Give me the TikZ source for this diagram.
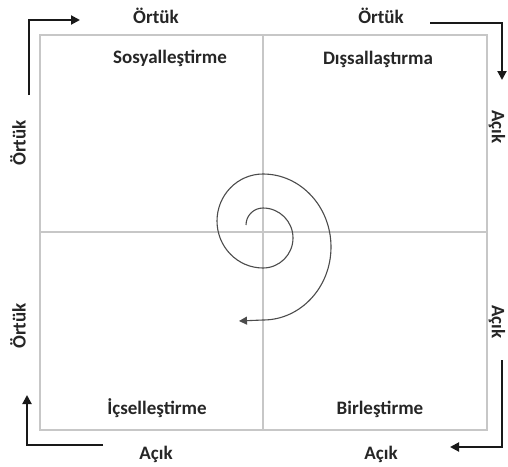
\documentclass[tikz,border=0pt]{standalone}
\usepackage{fontspec}
\setmainfont{Carlito}
\usetikzlibrary{arrows.meta}
\begin{document}
\begin{tikzpicture}[x=1pt,y=1pt,
  frame/.style={draw=black!22, line width=1.3pt},
  lbl/.style={font=\bfseries\fontsize{19}{22}\selectfont, text=black!85, inner sep=0pt},
  flow/.style={draw=black!90, line width=2pt, -{Triangle[length=9pt,width=9pt]}},
  spiralline/.style={draw=black!70, line width=1.1pt, -{Triangle[length=8pt,width=8pt]}}]
\useasboundingbox (0,0) rectangle (508,-466);
\fill[white] (0,0) rectangle (508,-466);

% quadrant frame
\coordinate (nw) at (40,-35);
\coordinate (se) at (487,-430);
\coordinate (midT) at (263,-35);
\coordinate (midB) at (263,-430);
\coordinate (midL) at (40,-232);
\coordinate (midR) at (487,-232);
\draw[frame] (nw) rectangle (se);
\draw[frame] (midT) -- (midB);
\draw[frame] (midL) -- (midR);

% quadrant titles
\node[lbl, anchor=base] (sos) at (170,-63) {Sosyalleştirme};
\node[lbl, anchor=base] (dis) at (378,-64) {Dışsallaştırma};
\node[lbl, anchor=base] (ics) at (157,-414) {İçselleştirme};
\node[lbl, anchor=base] (bir) at (380,-414) {Birleştirme};

% axis labels
\node[lbl, anchor=base] (ortTL) at (156,-23) {Örtük};
\node[lbl, anchor=base] (ortTR) at (381,-23) {Örtük};
\node[lbl, anchor=base] (acBL) at (156,-459) {Açık};
\node[lbl, anchor=base] (acBR) at (381,-459) {Açık};
\node[lbl, rotate=90] (ortL1) at (18,-143) {Örtük};
\node[lbl, rotate=90] (ortL2) at (18,-326) {Örtük};
\node[lbl, rotate=-90] (acR1) at (497,-127) {Açık};
\node[lbl, rotate=-90] (acR2) at (497,-322) {Açık};

% corner arrows
\coordinate (tlS) at (29,-95);
\coordinate (tlC) at (29,-20);
\coordinate (tlE) at (80,-20);
\draw[flow] (tlS) -- (tlC) -- (tlE);

\coordinate (trS) at (430,-23);
\coordinate (trC) at (502,-23);
\coordinate (trE) at (502,-80);
\draw[flow] (trS) -- (trC) -- (trE);

\coordinate (brS) at (502,-360);
\coordinate (brC) at (502,-447);
\coordinate (brE) at (450,-447);
\draw[flow] (brS) -- (brC) -- (brE);

\coordinate (blS) at (103,-445);
\coordinate (blC) at (27,-445);
\coordinate (blE) at (27,-395);
\draw[flow] (blS) -- (blC) -- (blE);

% knowledge spiral
\coordinate (spStart) at (246,-225);
\coordinate (spEnd) at (239,-321);
\draw[spiralline] (spStart)
  arc[start angle=180, end angle=90, radius=17pt]
  arc[start angle=90, end angle=-90, radius=30pt]
  arc[start angle=-90, end angle=-270, x radius=46pt, y radius=47pt]
  arc[start angle=90, end angle=-90, x radius=68pt, y radius=73pt]
  -- (spEnd);
\end{tikzpicture}
\end{document}
